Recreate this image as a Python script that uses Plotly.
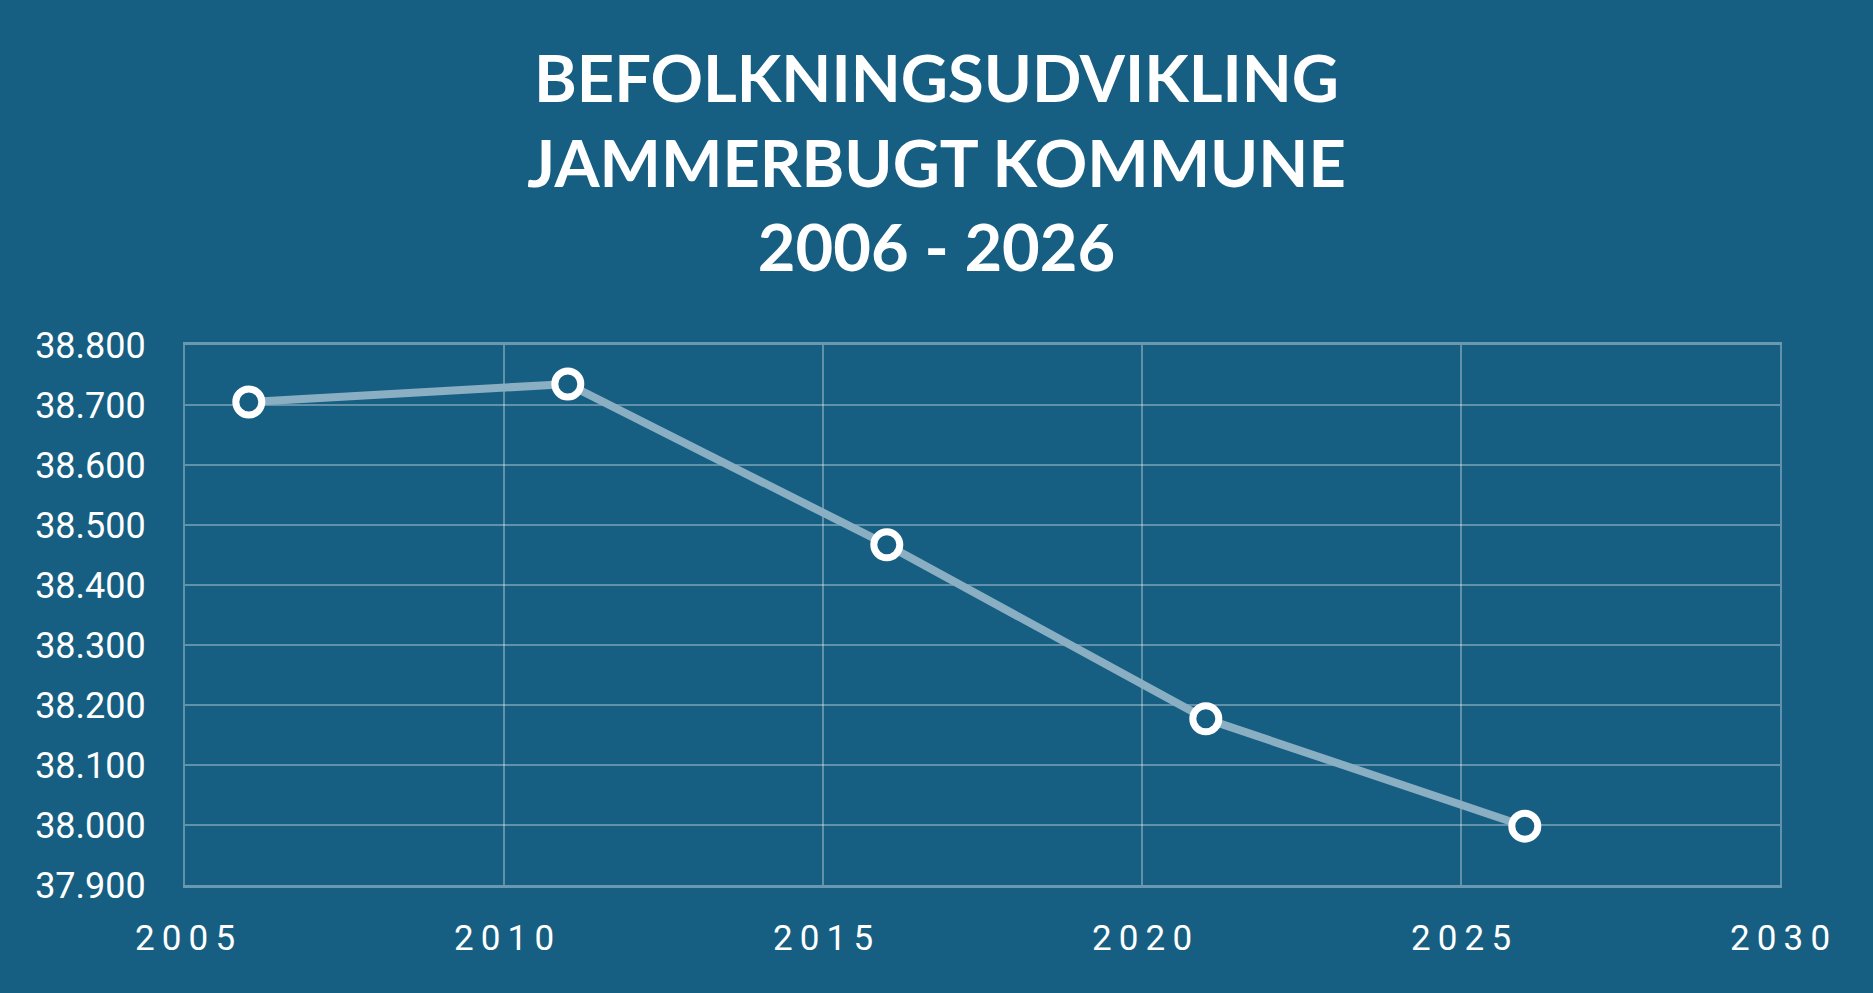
import plotly.graph_objects as go

years = [2006, 2011, 2016, 2021, 2026]
population = [38705, 38735, 38467, 38177, 37998]

x_ticks = [2005, 2010, 2015, 2020, 2025, 2030]
# spaced-out year labels like the original
x_labels = ["\u2009".join(str(t)) for t in x_ticks]

bg = "#175f82"
grid = "rgba(255,255,255,0.32)"

trace = go.Scatter(
    x=years,
    y=population,
    mode="lines+markers",
    line=dict(color="#8aafc3", width=8),
    marker=dict(size=26, color=bg, line=dict(color="white", width=7)),
    showlegend=False,
)

layout = go.Layout(
    width=1873,
    height=993,
    paper_bgcolor=bg,
    plot_bgcolor=bg,
    separators=",.",
    margin=dict(l=185, r=93, t=345, b=108),
    title=dict(
        text="BEFOLKNINGSUDVIKLING<br>JAMMERBUGT KOMMUNE<br>2006 - 2026",
        font=dict(family="Lato", size=65, color="white", weight=700),
        x=0.5,
        xanchor="center",
        yref="container",
        y=0.897,
        yanchor="top",
    ),
    xaxis=dict(
        range=[2005, 2030],
        tickvals=x_ticks,
        ticktext=x_labels,
        showgrid=True,
        gridcolor=grid,
        gridwidth=2,
        showline=True,
        mirror=True,
        linecolor="rgba(255,255,255,0.36)",
        linewidth=3,
        zeroline=False,
        ticks="",
        ticklabelstandoff=20,
        tickfont=dict(family="Roboto", size=35, color="white"),
    ),
    yaxis=dict(
        range=[37900, 38800],
        dtick=100,
        tickformat=",d",
        showgrid=True,
        gridcolor=grid,
        gridwidth=2,
        showline=True,
        mirror=True,
        linecolor=grid,
        linewidth=2,
        zeroline=False,
        ticks="",
        ticklabelstandoff=30,
        tickfont=dict(family="Roboto", size=36, color="white"),
    ),
)

fig = go.Figure(data=[trace], layout=layout)

fig.write_html(
    "out.html",
    config={"displayModeBar": False},
    post_script="document.body.style.margin='0';",
)
